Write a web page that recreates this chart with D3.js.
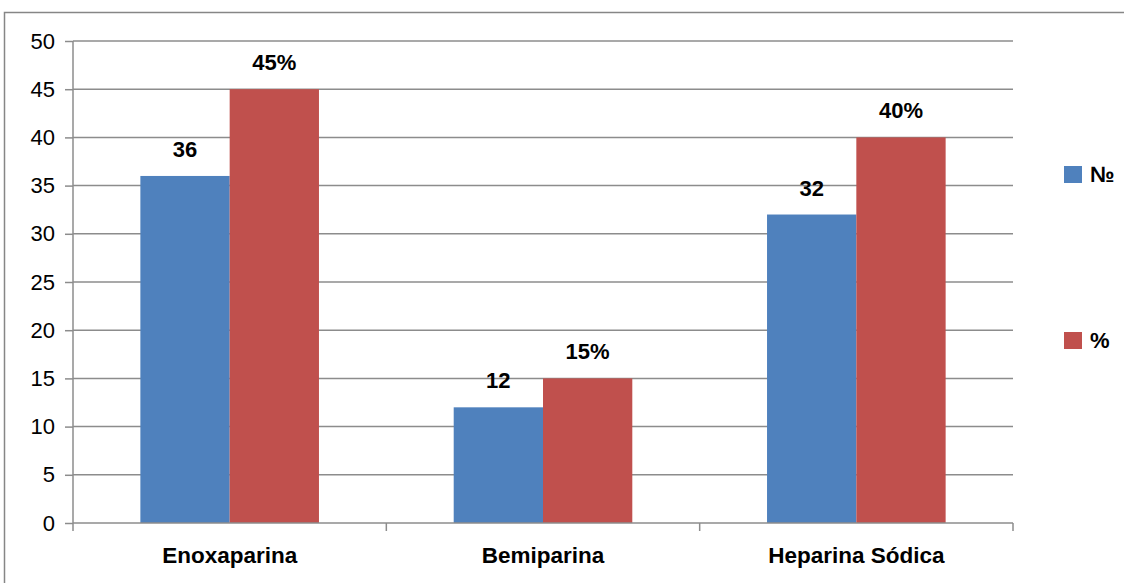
<!DOCTYPE html>
<html>
<head>
<meta charset="utf-8">
<script src="https://cdn.jsdelivr.net/npm/d3@7"></script>
<style>
  body { margin: 0; background: #fff; }
  svg { display: block; }
</style>
</head>
<body>
<div id="chart"></div>
<script>
// chart data
var categories = ["Enoxaparina", "Bemiparina", "Heparina Sódica"];
var seriesNames = ["№", "%"];
var countValues = [36, 12, 32];
var percentValues = [45, 15, 40];
var yTicks = [0, 5, 10, 15, 20, 25, 30, 35, 40, 45, 50];

var colors = ["#4f81bd", "#c0504d"];
var font = "'Liberation Sans', Arial, sans-serif";

var W = 1124, H = 583;
var margin = { top: 41, right: 111, bottom: 60, left: 73 },
    width = W - margin.left - margin.right,
    height = H - margin.top - margin.bottom;

var svg = d3.select("#chart")
  .append("svg")
  .attr("width", W)
  .attr("height", H);

// outer frame (only top and left edges are inside the picture)
svg.append("path")
  .attr("d", "M4.5," + (H + 2) + "V12.5H" + (W + 2))
  .attr("fill", "none")
  .attr("stroke", "#868686")
  .attr("stroke-width", 1.5);

var g = svg.append("g")
  .attr("transform", "translate(" + margin.left + "," + margin.top + ")");

var x0 = d3.scaleBand()
  .domain(categories)
  .range([0, width])
  .paddingInner(0.43)
  .paddingOuter(0.215);

var x1 = d3.scaleBand()
  .domain(seriesNames)
  .range([0, x0.bandwidth()]);

var y = d3.scaleLinear()
  .domain([0, 50])
  .range([height, 0]);

// gridlines
g.append("g")
  .selectAll("line")
  .data(yTicks.filter(function(d) { return d > 0; }))
  .enter()
  .append("line")
  .attr("x1", 0).attr("x2", width)
  .attr("y1", function(d) { return y(d); })
  .attr("y2", function(d) { return y(d); })
  .attr("stroke", "#8c8c8c")
  .attr("stroke-width", 1.5);

// y axis
var yAxis = d3.axisLeft(y)
  .tickValues(yTicks)
  .tickSize(8)
  .tickPadding(10);

var yg = g.append("g").call(yAxis);
yg.select(".domain").attr("stroke", "#8c8c8c").attr("stroke-width", 1.5).attr("d", "M0,0V" + height);
yg.selectAll(".tick line").attr("stroke", "#8c8c8c").attr("stroke-width", 1.5);
yg.selectAll(".tick text")
  .attr("fill", "#000")
  .style("font-family", font)
  .style("font-size", "22px");

// bars
var rows = categories.map(function(c, i) {
  return { cat: c, vals: [countValues[i], percentValues[i]] };
});

var groups = g.selectAll(".grp")
  .data(rows)
  .enter()
  .append("g")
  .attr("class", "grp")
  .attr("transform", function(d) { return "translate(" + x0(d.cat) + ",0)"; });

groups.selectAll("rect")
  .data(function(d) { return d.vals.map(function(v, j) { return { s: seriesNames[j], v: v, j: j }; }); })
  .enter()
  .append("rect")
  .attr("x", function(d) { return x1(d.s); })
  .attr("y", function(d) { return y(d.v); })
  .attr("width", x1.bandwidth())
  .attr("height", function(d) { return height - y(d.v); })
  .attr("fill", function(d) { return colors[d.j]; });

// value labels
groups.selectAll("text")
  .data(function(d) { return d.vals.map(function(v, j) { return { s: seriesNames[j], v: v, j: j }; }); })
  .enter()
  .append("text")
  .attr("x", function(d) { return x1(d.s) + x1.bandwidth() / 2; })
  .attr("y", function(d) { return y(d.v) - 19; })
  .attr("text-anchor", "middle")
  .style("font-family", font)
  .style("font-weight", "bold")
  .style("font-size", "22px")
  .text(function(d) { return d.j === 1 ? d.v + "%" : d.v; });

// x axis
var xAxis = d3.axisBottom(x0).tickSize(0).tickPadding(24);
var xg = g.append("g")
  .attr("transform", "translate(0," + height + ")")
  .call(xAxis);
xg.select(".domain").attr("stroke", "#8c8c8c").attr("stroke-width", 1.5).attr("d", "M0,0H" + width);
xg.selectAll(".tick text")
  .attr("fill", "#000")
  .style("font-family", font)
  .style("font-weight", "bold")
  .style("font-size", "22.5px");

// category boundary ticks
var step = width / categories.length;
xg.selectAll(".sep")
  .data(d3.range(categories.length + 1))
  .enter()
  .append("line")
  .attr("x1", function(d) { return d * step; })
  .attr("x2", function(d) { return d * step; })
  .attr("y1", 0).attr("y2", 8)
  .attr("stroke", "#8c8c8c")
  .attr("stroke-width", 1.5);

// legend
var legend = svg.append("g")
  .selectAll("g")
  .data(seriesNames)
  .enter()
  .append("g")
  .attr("transform", function(d, i) { return "translate(1064," + (166 + i * 166) + ")"; });

legend.append("rect")
  .attr("width", 18).attr("height", 17)
  .attr("fill", function(d, i) { return colors[i]; });

legend.append("text")
  .attr("x", 26).attr("y", 16)
  .style("font-family", font)
  .style("font-weight", "bold")
  .style("font-size", "22px")
  .text(function(d) { return d; });
</script>
</body>
</html>
